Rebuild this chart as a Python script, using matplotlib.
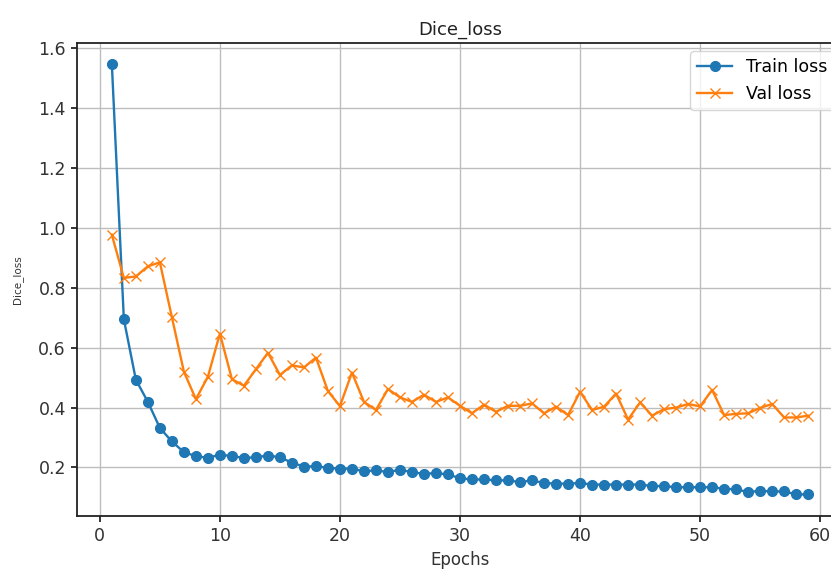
import numpy as np
import matplotlib
matplotlib.use('Agg')
import matplotlib.pyplot as plt

epochs = list(range(1, 60))

train_loss = [1.547, 0.695, 0.493, 0.419, 0.332, 0.287, 0.251, 0.238, 0.232, 0.243,
              0.238, 0.232, 0.234, 0.240, 0.234, 0.216, 0.203, 0.204, 0.199, 0.196,
              0.196, 0.187, 0.191, 0.184, 0.193, 0.184, 0.179, 0.181, 0.177, 0.164,
              0.160, 0.160, 0.157, 0.157, 0.151, 0.157, 0.148, 0.146, 0.146, 0.148,
              0.143, 0.143, 0.143, 0.143, 0.143, 0.138, 0.138, 0.134, 0.134, 0.134,
              0.134, 0.129, 0.127, 0.118, 0.122, 0.120, 0.120, 0.110, 0.110]

val_loss = [0.977, 0.833, 0.838, 0.872, 0.885, 0.702, 0.520, 0.428, 0.503, 0.647,
            0.495, 0.473, 0.528, 0.583, 0.509, 0.541, 0.534, 0.567, 0.455, 0.405,
            0.517, 0.419, 0.392, 0.462, 0.434, 0.419, 0.443, 0.419, 0.434, 0.406,
            0.381, 0.410, 0.386, 0.406, 0.406, 0.414, 0.381, 0.403, 0.375, 0.453,
            0.392, 0.403, 0.447, 0.360, 0.417, 0.373, 0.395, 0.400, 0.412, 0.404,
            0.459, 0.375, 0.379, 0.381, 0.399, 0.412, 0.367, 0.367, 0.373]

fig = plt.figure(figsize=(8.31, 5.72), dpi=100)
# axes runs a little past the right edge, like the cropped original
ax = fig.add_axes([0.0927, 0.098, 0.9217, 0.8275])

ax.plot(epochs, train_loss, marker='o', markersize=7, linewidth=1.7, label='Train loss')
ax.plot(epochs, val_loss, marker='x', markersize=7, linewidth=1.7, label='Val loss')
ax.set_title('Dice_loss', fontsize=13, color='#222222')
ax.set_xlabel('Epochs', fontsize=12, color='#333333')
ax.set_ylabel('Dice_loss', fontsize=7.5, color='#333333', labelpad=11)
ax.tick_params(labelsize=12.5, labelcolor='#333333', width=1.1, length=4.5)
for s in ax.spines.values():
    s.set_linewidth(1.3)
    s.set_color('#222222')
ax.grid(True, color='#bdbdbd', linewidth=1.0)
ax.legend(loc='upper right', fontsize=12.5)

fig.savefig('out.png', dpi=100)
